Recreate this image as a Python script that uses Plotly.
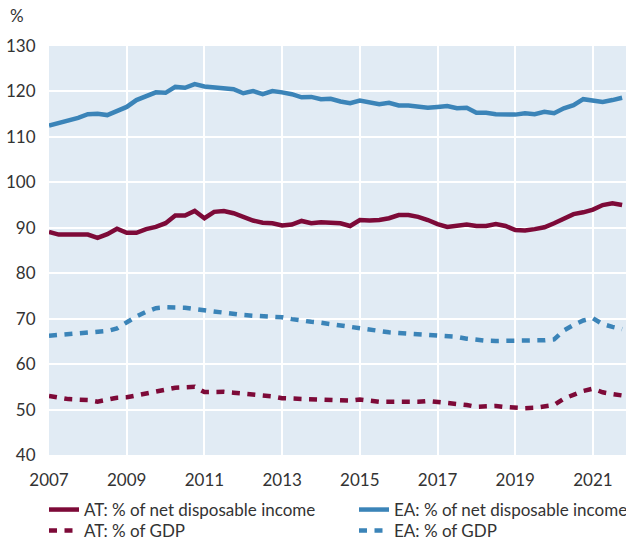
import plotly.graph_objects as go

# Quarterly observations 2007Q1 .. 2021Q4
quarters = [2007 + i * 0.25 for i in range(60)]

at_income = [89.1, 88.5, 88.5, 88.5, 88.5, 87.8, 88.6, 89.8, 88.9, 88.9, 89.7, 90.2,
             91.0, 92.7, 92.7, 93.7, 92.1, 93.5, 93.7, 93.2, 92.4, 91.6, 91.1, 91.0,
             90.5, 90.7, 91.5, 91.0, 91.2, 91.1, 91.0, 90.4, 91.7, 91.6, 91.7, 92.1,
             92.8, 92.8, 92.4, 91.7, 90.8, 90.2, 90.4, 90.7, 90.4, 90.4, 90.8, 90.4,
             89.5, 89.4, 89.7, 90.1, 91.0, 92.1, 93.0, 93.4, 94.0, 95.0, 95.4, 95.0]

ea_income = [112.5, 113.0, 113.6, 114.2, 115.0, 115.1, 114.8, 115.6, 116.6, 118.1, 118.9, 119.8,
             119.7, 121.0, 120.8, 121.6, 121.1, 120.9, 120.8, 120.5, 119.6, 120.1, 119.4, 120.1,
             119.8, 119.4, 118.7, 118.8, 118.3, 118.4, 117.8, 117.4, 118.0, 117.5, 117.2, 117.5,
             116.9, 116.9, 116.6, 116.4, 116.6, 116.8, 116.3, 116.4, 115.3, 115.3, 115.0, 115.0,
             114.9, 115.2, 115.0, 115.5, 115.2, 116.3, 117.0, 118.3, 118.1, 117.7, 118.1, 118.6]

at_gdp = [53.0, 52.6, 52.3, 52.2, 52.1, 51.75, 52.1, 52.6, 52.7, 53.1, 53.6, 53.9,
          54.2, 54.8, 54.9, 55.0, 53.85, 53.9, 53.9, 53.7, 53.55, 53.4, 53.1, 52.9,
          52.5, 52.4, 52.4, 52.25, 52.2, 52.2, 52.1, 51.95, 52.2, 51.9, 51.7, 51.7,
          51.7, 51.65, 51.7, 51.9, 51.7, 51.5, 51.3, 51.0, 50.6, 50.75, 50.8, 50.55,
          50.35, 50.3, 50.4, 50.6, 51.0, 52.4, 53.3, 54.1, 54.6, 53.8, 53.4, 53.1]

ea_gdp = [66.25, 66.4, 66.55, 66.8, 67.0, 67.1, 67.3, 67.85, 69.3, 70.5, 71.5, 72.3,
          72.5, 72.5, 72.4, 72.1, 71.8, 71.5, 71.3, 71.0, 70.8, 70.65, 70.5, 70.4,
          70.3, 69.9, 69.5, 69.3, 69.1, 68.8, 68.4, 68.0, 67.9, 67.5, 67.1, 67.0,
          66.85, 66.7, 66.6, 66.5, 66.45, 66.3, 66.0, 65.6, 65.3, 65.15, 65.1, 65.1,
          65.1, 65.1, 65.15, 65.25, 65.45, 67.4, 68.6, 69.6, 70.1, 68.8, 68.2, 67.7]

x_tick_vals = [2007, 2009, 2011, 2013, 2015, 2017, 2019, 2021]
x_tick_text = ["2007", "2009", "2011", "2013", "2015", "2017", "2019", "2021"]
y_tick_vals = [40, 50, 60, 70, 80, 90, 100, 110, 120, 130]

AT_COLOR = "#7d0a38"
EA_COLOR = "#3b84b8"
FONT = "Lato"
TXT = "#333333"
W = 4.5
DASH = "8px,7.5px"

PW, PH = 577, 409  # plot area size in px
L, T = 49, 46


def px_x(px):
    return (px - L) / PW


def px_y(py):
    return (T + PH - py) / PH


fig = go.Figure()
fig.add_trace(go.Scatter(x=quarters, y=at_income, mode="lines", name="AT: % of net disposable income",
                         line=dict(color=AT_COLOR, width=W), legend="legend"))
fig.add_trace(go.Scatter(x=quarters, y=ea_income, mode="lines", name="EA: % of net disposable income",
                         line=dict(color=EA_COLOR, width=W), legend="legend2"))
fig.add_trace(go.Scatter(x=quarters, y=at_gdp, mode="lines", name="AT: % of GDP",
                         line=dict(color=AT_COLOR, width=W, dash=DASH), legend="legend3"))
fig.add_trace(go.Scatter(x=quarters, y=ea_gdp, mode="lines", name="EA: % of GDP",
                         line=dict(color=EA_COLOR, width=W, dash=DASH), legend="legend4"))

legend_common = dict(orientation="v", yanchor="middle", xanchor="left",
                     font=dict(family=FONT, size=17, color=TXT),
                     bgcolor="rgba(0,0,0,0)", itemwidth=30, tracegroupgap=0)

ROW1, ROW2 = 510, 531
COL1, COL2 = 44, 354

fig.update_layout(
    width=626, height=542,
    margin=dict(l=L, r=626 - L - PW, t=T, b=542 - T - PH, autoexpand=False),
    paper_bgcolor="white",
    plot_bgcolor="#e1ebf4",
    font=dict(family=FONT, size=16, color=TXT),
    showlegend=True,
    legend=dict(x=px_x(COL1), y=px_y(ROW1), **legend_common),
    legend2=dict(x=px_x(COL2), y=px_y(ROW1), **legend_common),
    legend3=dict(x=px_x(COL1), y=px_y(ROW2), **legend_common),
    legend4=dict(x=px_x(COL2), y=px_y(ROW2), **legend_common),
    xaxis=dict(range=[2007, 2021.85], tickvals=x_tick_vals, ticktext=x_tick_text,
               showgrid=True, gridcolor="white", gridwidth=2, zeroline=False,
               ticks="outside", ticklen=10, tickcolor="rgba(0,0,0,0)",
               showline=False, tickfont=dict(family=FONT, size=17, color=TXT)),
    yaxis=dict(range=[40, 130], tickvals=y_tick_vals,
               showgrid=True, gridcolor="white", gridwidth=2, zeroline=False,
               ticks="outside", ticklen=9, tickcolor="rgba(0,0,0,0)",
               showline=False, tickfont=dict(family=FONT, size=17, color=TXT)),
    annotations=[dict(text="%", xref="paper", yref="paper", x=px_x(8), y=px_y(16),
                      xanchor="left", yanchor="middle", showarrow=False,
                      font=dict(family=FONT, size=17, color=TXT))],
)

fig.write_html("out.html",
               config={"displayModeBar": False},
               post_script="document.body.style.margin='0';document.body.style.overflow='hidden';")
